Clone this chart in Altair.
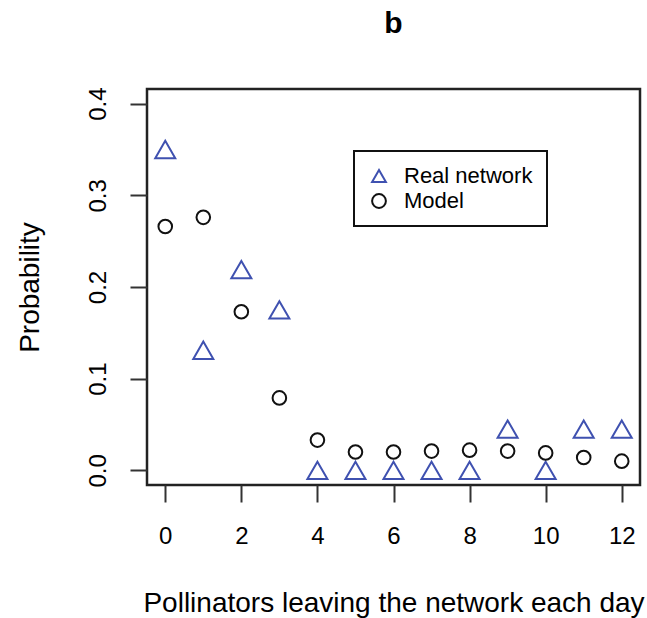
import altair as alt
import pandas as pd

x_vals = list(range(13))
real_network = [0.350, 0.131, 0.219, 0.175, 0.0, 0.0, 0.0, 0.0, 0.0, 0.045, 0.0, 0.045, 0.045]
model = [0.266, 0.276, 0.173, 0.079, 0.033, 0.020, 0.020, 0.021, 0.022, 0.021, 0.019, 0.014, 0.010]
series_names = ["Real network", "Model"]
x_ticks = [0, 2, 4, 6, 8, 10, 12]
y_ticks = [0.0, 0.1, 0.2, 0.3, 0.4]

df = pd.DataFrame(
    {"x": x_vals * 2,
     "p": real_network + model,
     "series": [series_names[0]] * len(x_vals) + [series_names[1]] * len(x_vals)}
)

FONT = "Liberation Sans"

xenc = alt.X("x:Q", scale=alt.Scale(domain=[-0.48, 12.48], nice=False, zero=False),
             axis=alt.Axis(values=x_ticks, title="Pollinators leaving the network each day",
                           grid=False, domain=False, tickSize=17, tickWidth=2, tickColor="#333333",
                           labelFontSize=24, labelPadding=22, labelColor="#000000",
                           titleFontSize=28, titleFontWeight="normal", titlePadding=41,
                           titleColor="#000000", labelFont=FONT, titleFont=FONT))
yenc = alt.Y("p:Q", scale=alt.Scale(domain=[-0.016, 0.416], nice=False, zero=False),
             axis=alt.Axis(values=y_ticks, format=".1f", title="Probability",
                           grid=False, domain=False, tickSize=17, tickWidth=2, tickColor="#333333",
                           labelFontSize=24, labelPadding=20, labelAngle=270,
                           labelAlign="center", labelBaseline="bottom", labelColor="#000000",
                           titleFontSize=28, titleFontWeight="normal", titlePadding=42,
                           titleColor="#000000", labelFont=FONT, titleFont=FONT))

color = alt.Color("series:N", scale=alt.Scale(domain=series_names, range=["#3f51b0", "#111111"]),
                  legend=alt.Legend(title=None, orient="none", legendX=207, legendY=62,
                                    strokeColor="#111111", padding=14,
                                    labelFontSize=22, labelFont=FONT, labelColor="#000000",
                                    labelOffset=14, symbolSize=190, symbolStrokeWidth=2,
                                    rowPadding=3, fillColor="#ffffff"))
shape = alt.Shape("series:N", scale=alt.Scale(domain=series_names, range=["triangle-up", "circle"]))

base = alt.Chart(df)
tri = base.transform_filter(alt.datum.series == series_names[0]).mark_point(
    filled=False, strokeWidth=2, size=400, opacity=1).encode(x=xenc, y=yenc, color=color, shape=shape)
circ = base.transform_filter(alt.datum.series == series_names[1]).mark_point(
    filled=False, strokeWidth=2, size=185, opacity=1).encode(x=xenc, y=yenc, color=color, shape=shape)

chart = alt.layer(tri, circ).properties(
    width=493, height=396,
    autosize="none",
    background="#ffffff",
    padding={"left": 147, "top": 89, "right": 7, "bottom": 133},
    title=alt.TitleParams("b", fontSize=30, fontWeight="bold", font=FONT, anchor="middle",
                          offset=48, color="#000000"),
).configure_view(stroke="#222222", strokeWidth=2.5).configure_legend(strokeWidth=2)

chart.save("out.html", embed_options={"renderer": "svg", "actions": False})
